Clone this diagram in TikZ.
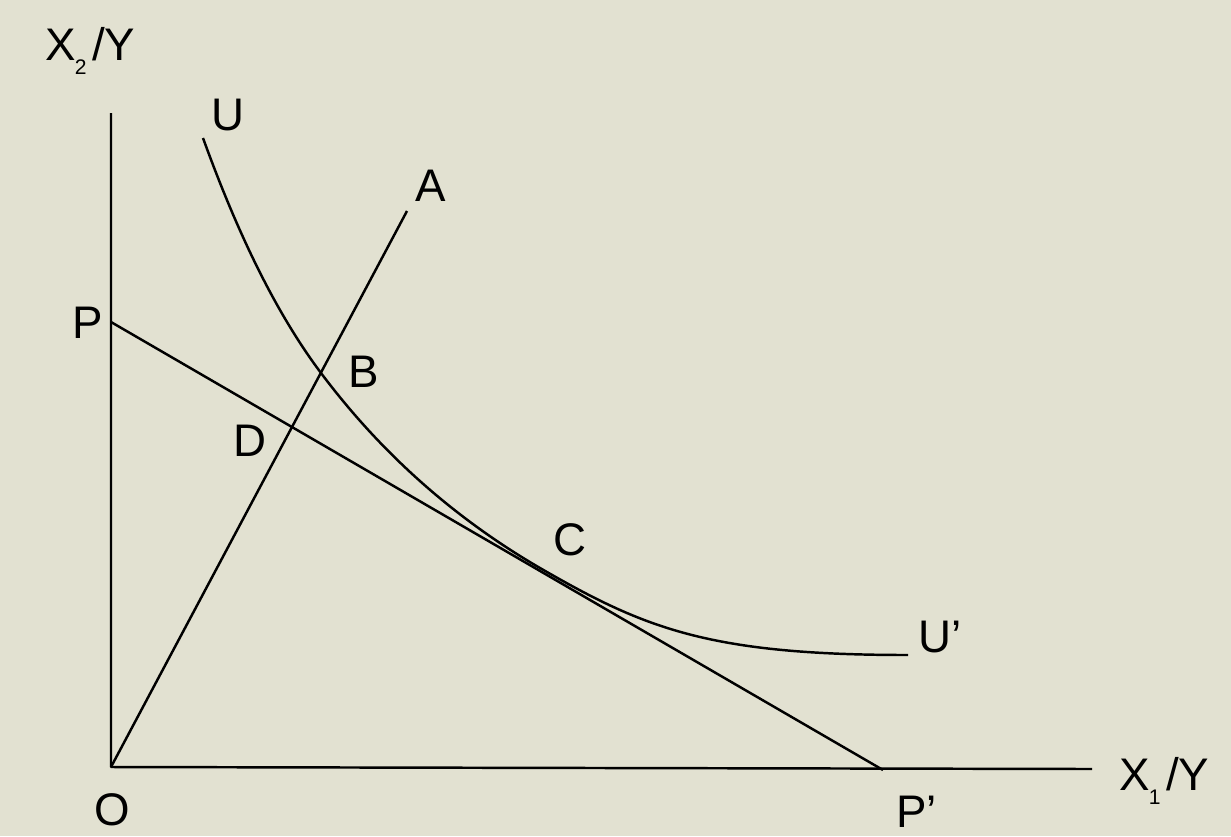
\documentclass[tikz,border=0pt]{standalone}
\usepackage{fontspec}
\setmainfont{Liberation Sans}
\usetikzlibrary{positioning}
\definecolor{paper}{RGB}{226,225,209}
\newcommand\axname[1]{X\kern-.02em\raisebox{-8pt}{\fontsize{12}{12}\selectfont #1}\kern.12em/Y}

\begin{document}
\begin{tikzpicture}[
    x=0.02cm, y=-0.02cm,
    every node/.style={font=\fontsize{26}{31}\selectfont, inner sep=0pt},
    ln/.style={line width=1.4pt, line join=round}
]

\fill[paper] (0,0) rectangle (1231,836);
\useasboundingbox (0,0) rectangle (1231,836);

% axes and lines
\coordinate (O)    at (111,767);
\coordinate (Ytop) at (111,113);
\coordinate (Xend) at (1092,769);
\coordinate (P)    at (111,322);
\coordinate (Pp)   at (883,770);
\coordinate (A)    at (407,211);

\draw[ln] (Ytop) -- (O) -- (Xend);
\draw[ln] (P) -- (Pp);
\draw[ln] (O) -- (A);

% indifference curve U-U'
\coordinate (Us) at (203,138);
\coordinate (B)  at (321,373);
\coordinate (C)  at (540,568);
\coordinate (Ue) at (908,655);

\draw[ln] (Us) .. controls (232,218) and (270,305) .. (B)
               .. controls (381,453) and (454,518) .. (C)
               .. controls (644,628) and (708,655) .. (Ue);

% labels
\node[anchor=base west] (lX2) at (45,60)    {\axname{2}};
\node[anchor=base west] (lX1) at (1119,790) {\axname{1}};
\node (lU) at (228,115) {U};
\node (lA) at (431,186) {A};
\node (lP) at (88,323)  {P};
\node (lB) at (364,372) {B};
\node (lD) at (250,441) {D};
\node (lC) at (570,540) {C};
\node (lO) at (112,810) {O};
\node[anchor=base west] (lUp) at (918,652) {U’};
\node[anchor=base west] (lPp) at (896,827) {P’};

\end{tikzpicture}
\end{document}
